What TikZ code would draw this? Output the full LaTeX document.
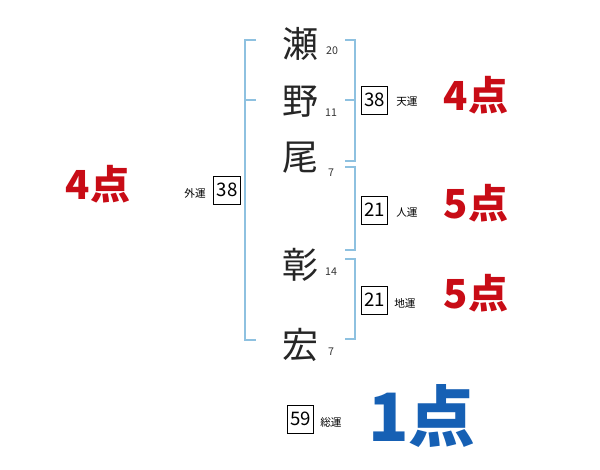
\documentclass[tikz,border=0pt]{standalone}
\usepackage{fontspec}
\newfontfamily\jp{Noto Sans CJK JP}
\definecolor{brk}{RGB}{142,193,224}
\definecolor{ptred}{RGB}{200,12,22}
\definecolor{ptblue}{RGB}{22,96,180}
\tikzset{
  brack/.style={draw=brk, line width=1.2pt},
  namechar/.style={font=\jp\fontsize{27}{27}\selectfont, inner sep=0pt, text=black!85},
  strokes/.style={font=\jp\fontsize{8}{8}\selectfont, inner sep=0pt, text=black!80},
  numbox/.style={draw=black, line width=0.6pt, minimum width=20pt, minimum height=21pt, inner sep=0pt, font=\jp\fontsize{14}{14}\selectfont},
  unsei/.style={font=\jp\fontsize{8}{8}\selectfont, inner sep=0pt},
  pt/.style={font=\jp\bfseries\fontsize{30}{30}\selectfont, inner sep=0pt, text=ptred},
}
\begin{document}
\begin{tikzpicture}[x=0.75pt,y=-0.75pt]
\useasboundingbox (0,0) rectangle (600,470);
% name characters
\node[namechar] (c1) at (300,44) {瀬};
\node[namechar] (c2) at (300,102) {野};
\node[namechar] (c3) at (300,158) {尾};
\node[namechar] (c4) at (300,265) {彰};
\node[namechar] (c5) at (300,345) {宏};
% stroke counts
\node[strokes] (s1) at (332,51) {20};
\node[strokes] (s2) at (331,113) {11};
\node[strokes] (s3) at (331,173) {7};
\node[strokes] (s4) at (331,272) {14};
\node[strokes] (s5) at (331,352) {7};
% brackets
\coordinate (lt) at (245,40); \coordinate (lb) at (245,340);
\draw[brack] (256,40) -- (lt) -- (lb) -- (256,340);
\draw[brack] (245,100) -- (256,100);
\draw[brack] (345,40) -- (355,40) -- (355,161) -- (345,161);
\draw[brack] (345,100) -- (355,100);
\draw[brack] (345,167) -- (355,167) -- (355,250) -- (345,250);
\draw[brack] (345,259) -- (355,259) -- (355,339) -- (345,339);
% boxes
\node[numbox] (ten) at (374.5,100) {38};
\node[unsei, anchor=west] (tenl) at (396,102) {天運};
\node[numbox] (jin) at (374.5,210) {21};
\node[unsei, anchor=west] (jinl) at (396,213) {人運};
\node[numbox] (chi) at (374.5,300) {21};
\node[unsei, anchor=west] (chil) at (394,303) {地運};
\node[numbox] (gai) at (227,190) {38};
\node[unsei, anchor=east] (gail) at (206,193) {外運};
\node[numbox] (sou) at (300.5,419) {59};
\node[unsei, anchor=west] (soul) at (320,422) {総運};
% points
\node[pt] (p1) at (476,95) {4点};
\node[pt] (p2) at (476,203) {5点};
\node[pt] (p3) at (476,293) {5点};
\node[pt] (p4) at (98,184) {4点};
\node[pt, text=ptblue, font=\jp\bfseries\fontsize{50}{50}\selectfont] (p5) at (422,416) {1点};
\end{tikzpicture}
\end{document}
